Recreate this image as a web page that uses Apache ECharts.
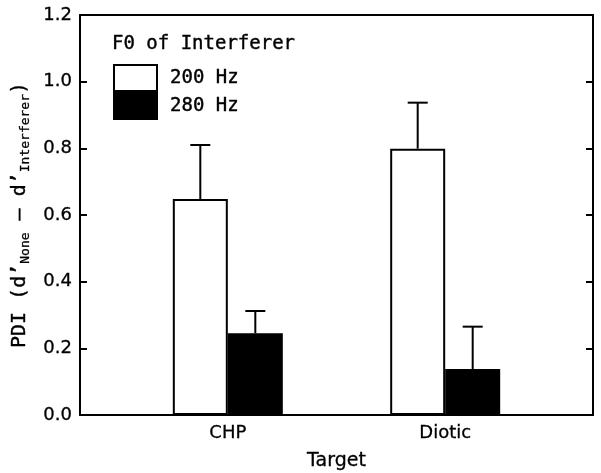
<!DOCTYPE html>
<html><head><meta charset="utf-8">
<script src="https://cdn.jsdelivr.net/npm/echarts@6/dist/echarts.min.js"></script>
<style>html,body{margin:0;padding:0;background:#fff}#c{width:601px;height:473px}</style>
</head><body><div id="c"></div>
<script>
const categories = ['CHP', 'Diotic'];
const catPositions = [1, 2];
const seriesNames = ['200 Hz', '280 Hz'];
const mean200 = [0.648, 0.799];
const se200 = [0.162, 0.138];
const mean280 = [0.245, 0.138];
const se280 = [0.067, 0.127];
const yTicks = [0, 0.2, 0.4, 0.6, 0.8, 1.0, 1.2];

const FONT = 'DejaVu Sans';
const MONO = 'DejaVu Sans Mono';
const BW = 55;

function errSeries(means, ses, offset) {
  return {
    type: 'custom',
    z: 1,
    silent: true,
    data: catPositions.map((x, i) => [x, means[i], means[i] + ses[i]]),
    renderItem: function (params, api) {
      const a = api.coord([api.value(0), api.value(1)]);
      const b = api.coord([api.value(0), api.value(2)]);
      const x = a[0] + offset;
      return {
        type: 'group',
        children: [
          { type: 'line', shape: { x1: x, y1: a[1], x2: x, y2: b[1] }, style: { stroke: '#000', lineWidth: 2 } },
          { type: 'line', shape: { x1: x - 10, y1: b[1], x2: x + 10, y2: b[1] }, style: { stroke: '#000', lineWidth: 2 } }
        ]
      };
    }
  };
}

const chart = echarts.init(document.getElementById('c'), null, { renderer: 'canvas' });
chart.setOption({
  animation: false,
  backgroundColor: '#fff',
  textStyle: { fontFamily: FONT, color: '#000' },
  title: {
    text: 'F0 of Interferer', left: 112, top: 35, padding: 0,
    textStyle: { fontFamily: MONO, fontSize: 19, fontWeight: 'normal', color: '#000', textBorderColor: '#000', textBorderWidth: 0.4 }
  },
  legend: {
    orient: 'vertical', left: 113, top: 64, padding: 0,
    data: seriesNames,
    icon: 'rect', itemWidth: 43, itemHeight: 26, itemGap: 0,
    itemStyle: { borderColor: '#000', borderWidth: 2 },
    textStyle: { fontFamily: MONO, fontSize: 19, color: '#000', padding: [0, 0, 0, 8], textBorderColor: '#000', textBorderWidth: 0.4 },
    selectedMode: false
  },
  grid: { left: 80, right: 8, top: 15, bottom: 58, containLabel: false, outerBoundsMode: 'none' },
  xAxis: [{
    type: 'value', min: 0.32, max: 2.68,
    position: 'bottom',
    splitLine: { show: false },
    axisLine: { show: true, lineStyle: { color: '#000', width: 2 } },
    axisTick: { show: false },
    axisLabel: {
      customValues: catPositions,
      formatter: v => categories[catPositions.indexOf(Math.round(v))] || '',
      fontFamily: FONT, fontSize: 18, color: '#000', margin: 9, textBorderColor: '#000', textBorderWidth: 0.3
    },
    name: 'Target', nameLocation: 'middle', nameGap: 37,
    nameTextStyle: { fontFamily: FONT, fontSize: 19, color: '#000', textBorderColor: '#000', textBorderWidth: 0.3 }
  }, {
    type: 'value', min: 0.32, max: 2.68, position: 'top',
    splitLine: { show: false },
    axisLine: { show: true, onZero: false, lineStyle: { color: '#000', width: 2 } },
    axisTick: { show: false }, axisLabel: { show: false }
  }],
  yAxis: [{
    type: 'value', min: 0, max: 1.2, interval: 0.2,
    splitLine: { show: false },
    axisLine: { show: true, lineStyle: { color: '#000', width: 2 } },
    axisTick: { show: true, inside: true, length: 7, lineStyle: { width: 2, color: '#000' } },
    axisLabel: {
      formatter: v => v.toFixed(1), fontFamily: FONT, fontSize: 18, color: '#000', margin: 8,
      textBorderColor: '#000', textBorderWidth: 0.3
    },
    name: '{m|PDI (d’}{s|None}{m| – d’}{s|Interferer}{m|)}',
    nameLocation: 'middle', nameGap: 47, nameRotate: 90,
    nameTextStyle: {
      rich: {
        m: { fontFamily: MONO, fontSize: 20, color: '#000', verticalAlign: 'top', lineHeight: 22, textBorderColor: '#000', textBorderWidth: 0.4 },
        s: { fontFamily: MONO, fontSize: 13, color: '#000', verticalAlign: 'bottom', lineHeight: 13, padding: [13, 0, 0, 0], textBorderColor: '#000', textBorderWidth: 0.3 }
      }
    }
  }, {
    type: 'value', min: 0, max: 1.2, interval: 0.2, position: 'right',
    splitLine: { show: false },
    axisLine: { show: true, onZero: false, lineStyle: { color: '#000', width: 2 } },
    axisTick: { show: true, inside: true, length: 7, lineStyle: { width: 2, color: '#000' } },
    axisLabel: { show: false }
  }],
  series: [{
    name: seriesNames[0], type: 'bar', z: 2,
    barWidth: BW, barGap: '0%',
    itemStyle: { color: '#fff', borderColor: '#000', borderWidth: 2 },
    data: catPositions.map((x, i) => [x, mean200[i]])
  }, {
    name: seriesNames[1], type: 'bar', z: 2,
    barWidth: BW, barGap: '0%',
    itemStyle: { color: '#000', borderColor: '#000', borderWidth: 2 },
    data: catPositions.map((x, i) => [x, mean280[i]])
  },
  errSeries(mean200, se200, -BW / 2),
  errSeries(mean280, se280, BW / 2)
  ]
});
</script></body></html>
